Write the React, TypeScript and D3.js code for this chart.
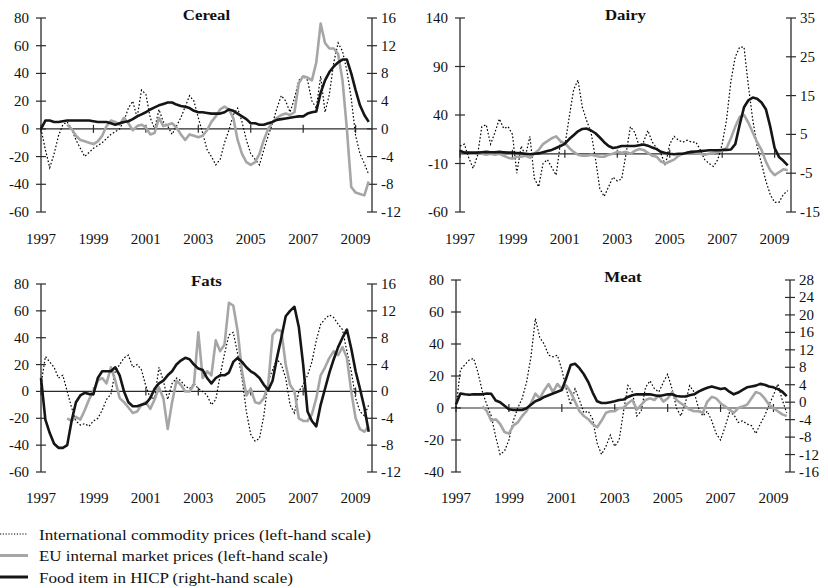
import React from "react";
import * as d3 from "d3";

// Monthly index (0 = Jan 1997), values sampled every 2 months
const STEP = 2;
const YEARS = [1997, 1999, 2001, 2003, 2005, 2007, 2009];
const N = null;

const cerealIntl = [0,-15,-28,-18,-5,3,5,0,-8,-14,
-20,-17,-14,-12,-10,-7,-4,-2,0,6,
15,20,8,28,25,8,0,14,5,2,
-4,2,8,16,24,20,8,-3,-15,-20,
-26,-22,-10,-1,10,15,5,-8,-18,-22,
-26,-15,-5,4,15,24,20,12,22,35,
38,35,20,15,38,12,25,48,62,56,
42,22,-5,-18,-25,-33];
const cerealEU = [N,N,N,N,N,N,3,0,-5,-8,
-9,-10,-11,-9,-5,2,6,5,3,8,
4,-1,2,3,1,-4,-3,8,2,3,
4,1,-4,-8,-4,-5,-6,-5,-1,5,
9,14,16,14,8,-8,-18,-24,-26,-24,
-18,-8,0,5,8,10,11,10,12,33,
38,37,35,48,76,62,58,58,54,35,
0,-42,-46,-47,-48,-38];
const cerealHICP = [0,1.2,1.2,1.0,1.0,1.1,1.2,1.2,1.2,1.2,
1.2,1.2,1.1,1.0,1.0,1.0,0.8,0.6,0.8,1.0,
1.1,1.4,1.8,2.1,2.4,2.8,3.1,3.4,3.6,3.8,
3.8,3.5,3.3,3.2,3.0,2.6,2.4,2.4,2.3,2.2,
2.2,2.2,2.4,2.8,2.6,2.2,1.8,1.4,0.8,0.8,
0.6,0.6,0.8,1.0,1.3,1.4,1.5,1.6,1.7,1.8,
1.8,2.2,2.4,2.5,5.2,7.0,8.2,9.0,9.6,10.0,
10.0,8.0,5.6,3.4,2.0,1.0];

const dairyIntl = [8,10,-4,-15,-2,28,30,10,22,36,
26,28,20,-20,8,-2,18,-25,-34,-10,
-6,-14,-22,12,8,38,66,76,48,34,
22,-5,-36,-44,-34,-24,-28,-26,0,28,
22,8,12,24,12,6,0,-12,10,18,
14,12,14,12,12,4,-6,-10,-13,-6,
10,35,75,100,110,110,70,35,8,-10,
-28,-42,-50,-50,-42,-38];
const dairyEU = [N,2,1,0,1,0,-1,0,-1,0,
-2,-4,-5,-3,-3,-2,-4,0,4,10,
13,16,18,13,11,6,2,-1,-2,-2,
-1,-2,-3,-3,-1,0,2,1,2,0,
3,5,4,1,-2,-3,-8,-10,-8,-6,
-2,0,1,2,1,0,-1,0,1,2,
3,6,16,28,38,40,32,22,12,4,
-8,-17,-22,-19,-16,-17];
const dairyHICP = [0.8,0.3,0.3,0.3,0.3,0.4,0.5,0.4,0.4,0.5,
0.4,0.3,0.3,0.2,0.1,0,-0.1,0,0.1,0.4,
0.7,1.0,1.5,2.0,2.6,3.8,4.8,5.8,6.4,6.5,
6.0,5.3,4.2,3.0,2.0,1.5,1.7,2.0,2.0,2.0,
2.0,2.2,2.4,2.1,1.6,1.2,0.5,0.2,0,-0.1,
0,0,0.3,0.5,0.6,0.7,0.8,0.9,0.9,0.9,
1.0,1.0,1.1,2.5,7.5,12,13.8,14.5,14.2,13.2,
11.5,7,1.5,-0.8,-1.8,-3.0];

const fatsIntl = [5,26,22,18,10,12,0,-12,-22,-25,
-24,-26,-22,-20,-14,-6,-2,15,20,25,
27,18,20,16,4,-5,-5,18,8,-6,
6,10,8,4,2,6,2,0,-3,-10,
-6,12,28,42,44,28,10,-15,-32,-37,
-35,-18,8,16,24,20,10,-10,-16,0,
5,12,22,38,50,54,57,55,50,46,
30,15,-5,-15,-18,-10];
const fatsEU = [N,N,N,N,N,N,-20,-22,-19,-21,
-14,-6,0,8,10,6,18,8,-5,-8,
-12,-16,-15,-10,-8,-13,-6,3,-5,-28,
-8,8,5,0,0,5,44,10,15,12,
38,30,35,66,64,45,15,-3,2,-8,
-9,-5,5,42,46,45,20,5,0,-20,
-22,-22,-17,-5,12,18,25,30,27,33,
25,0,-20,-28,-30,-26];
const fatsHICP = [2.0,-4.2,-6.2,-7.8,-8.4,-8.4,-8.0,-4.4,-1.6,-0.6,
-0.2,-0.4,-0.4,2.0,3.0,3.0,3.0,3.6,2.4,0,
-1.6,-2.2,-2.2,-2.0,-1.8,-1.0,0.4,1.2,1.6,2.4,
3.0,4.0,4.6,5.0,4.8,4.0,3.4,3.2,2.0,1.2,
2.0,2.4,2.4,2.8,4.4,5.0,4.4,3.6,3.0,2.6,
2.0,1.0,0.2,1.6,5.0,8.0,11.2,12.0,12.6,9.6,
4.0,-3.0,-4.4,-5.2,-2.0,0.4,2.8,4.8,6.6,8.0,
9.2,6.4,3.0,0.4,-2.4,-6.0];

const meatIntl = [0,24,27,30,31,22,10,2,-5,-18,
-29,-27,-20,-8,0,6,16,32,56,44,
40,33,32,33,24,12,2,12,5,-3,
-2,-7,-22,-29,-24,-17,-24,-20,-2,14,
10,-5,-2,13,17,12,10,16,21,12,
0,-5,3,14,10,0,-5,-2,-8,-16,
-20,-12,-3,-4,-9,-8,-10,-11,-16,-10,
-5,2,8,15,5,-3];
const meatEU = [N,N,N,N,N,N,1,-2,-8,-7,
-10,-15,-16,-11,-9,-5,-2,3,9,6,
11,15,10,15,12,14,10,4,-2,-5,
-7,-10,-12,-8,-3,-2,-2,0,0,3,
5,-1,2,5,6,5,8,4,6,10,
5,3,1,-1,-2,-2,-3,4,7,6,
3,1,-1,-3,0,1,2,6,10,9,
6,2,0,-2,-4,-5];
const meatHICP = [-0.5,2.0,1.8,1.7,1.8,1.8,1.8,2.0,1.9,0.4,
0,-0.8,-1.6,-1.8,-1.8,-1.8,-1.4,-0.6,0.2,0.6,
1.2,1.6,2.0,2.4,2.8,5.5,8.5,8.8,7.8,6.4,
4.6,2.2,0.2,-0.2,-0.2,0,0.2,0.5,0.6,1.2,
1.6,1.8,1.8,1.8,1.8,1.6,1.4,1.6,1.8,1.8,
1.4,1.3,1.3,1.6,1.8,2.4,2.9,3.3,3.6,3.3,
3.0,3.2,2.4,1.8,2.2,2.8,3.4,3.6,3.8,4.2,
4.0,3.6,3.4,3.0,2.4,1.4];

const cerealLeftTicks = [80, 60, 40, 20, 0, -20, -40, -60];
const cerealRightTicks = [16, 12, 8, 4, 0, -4, -8, -12];
const dairyLeftTicks = [140, 90, 40, -10, -60];
const dairyRightTicks = [35, 25, 15, 5, -5, -15];
const fatsLeftTicks = [80, 60, 40, 20, 0, -20, -40, -60];
const fatsRightTicks = [16, 12, 8, 4, 0, -4, -8, -12];
const meatLeftTicks = [80, 60, 40, 20, 0, -20, -40];
const meatRightTicks = [28, 24, 20, 16, 12, 8, 4, 0, -4, -8, -12, -16];

const LEGEND = [
  "International commodity prices (left-hand scale)",
  "EU internal market prices (left-hand scale)",
  "Food item in HICP (right-hand scale)",
];
const LEGEND_WIDTHS = [332, 289, 254];

const FONT = "'Liberation Serif', 'Times New Roman', serif";
const AXIS = "#2b2b2b";
const GRAY = "#a6a6a6";
const BLACK = "#151515";

type PanelCfg = {
  title: string;
  x0: number; x1: number; y0: number; y1: number;
  leftTicks: number[]; rightTicks: number[];
  intl: (number | null)[]; eu: (number | null)[]; hicp: (number | null)[];
  titleY: number; yearY: number;
};

const panels: PanelCfg[] = [
  { title: "Cereal", x0: 41, x1: 372, y0: 18, y1: 212, leftTicks: cerealLeftTicks, rightTicks: cerealRightTicks,
    intl: cerealIntl, eu: cerealEU, hicp: cerealHICP, titleY: 20, yearY: 243.5 },
  { title: "Dairy", x0: 460, x1: 791, y0: 18, y1: 212, leftTicks: dairyLeftTicks, rightTicks: dairyRightTicks,
    intl: dairyIntl, eu: dairyEU, hicp: dairyHICP, titleY: 20.5, yearY: 243.5 },
  { title: "Fats", x0: 41, x1: 372, y0: 284, y1: 472, leftTicks: fatsLeftTicks, rightTicks: fatsRightTicks,
    intl: fatsIntl, eu: fatsEU, hicp: fatsHICP, titleY: 286, yearY: 503 },
  { title: "Meat", x0: 456, x1: 790, y0: 280, y1: 472, leftTicks: meatLeftTicks, rightTicks: meatRightTicks,
    intl: meatIntl, eu: meatEU, hicp: meatHICP, titleY: 282.5, yearY: 503 },
];

function Panel({ p }: { p: PanelCfg }) {
  const x = d3.scaleLinear().domain([0, 151.5]).range([p.x0, p.x1]);
  const yL = d3.scaleLinear().domain(d3.extent(p.leftTicks) as [number, number]).range([p.y1, p.y0]);
  const yR = d3.scaleLinear().domain(d3.extent(p.rightTicks) as [number, number]).range([p.y1, p.y0]);
  const mk = (ys: d3.ScaleLinear<number, number>) =>
    d3.line<number | null>()
      .defined((d) => d != null)
      .x((_, i) => x(i * STEP))
      .y((d) => ys(d as number));
  const lineL = mk(yL);
  const lineR = mk(yR);
  const z = yL(0);
  const cx = (p.x0 + p.x1) / 2;
  return (
    <g fontFamily={FONT} fontSize={15} fill="#111">
      <text x={cx} y={p.titleY} textAnchor="middle" fontWeight="bold" fontSize={15}
        transform={`translate(${cx},0) scale(1.12,1) translate(${-cx},0)`}>
        {p.title}
      </text>
      {/* axes */}
      <line x1={p.x0} x2={p.x0} y1={p.y0} y2={p.y1} stroke={AXIS} strokeWidth={1.3} />
      <line x1={p.x1} x2={p.x1} y1={p.y0} y2={p.y1} stroke={AXIS} strokeWidth={1.3} />
      <line x1={p.x0} x2={p.x1} y1={z} y2={z} stroke={AXIS} strokeWidth={1.2} />
      {p.leftTicks.map((t) => (
        <g key={"l" + t}>
          <line x1={p.x0 - 5} x2={p.x0 + 5} y1={yL(t)} y2={yL(t)} stroke={AXIS} strokeWidth={1.2} />
          <text x={p.x0 - 12} y={yL(t) + 5} textAnchor="end">{t}</text>
        </g>
      ))}
      {p.rightTicks.map((t) => (
        <g key={"r" + t}>
          <line x1={p.x1 - 5} x2={p.x1 + 5} y1={yR(t)} y2={yR(t)} stroke={AXIS} strokeWidth={1.2} />
          <text x={p.x1 + 9} y={yR(t) + 5} textAnchor="start">{t}</text>
        </g>
      ))}
      {YEARS.map((yr) => {
        const xx = x((yr - 1997) * 12);
        return (
          <g key={yr}>
            <line x1={xx} x2={xx} y1={z - 4} y2={z + 4} stroke={AXIS} strokeWidth={1.2} />
            <text x={xx} y={p.yearY} textAnchor="middle">{yr}</text>
          </g>
        );
      })}
      <path d={lineL(p.intl) || ""} fill="none" stroke="#000" strokeWidth={1.2} strokeDasharray="1.6,2" />
      <path d={lineL(p.eu) || ""} fill="none" stroke={GRAY} strokeWidth={2.6} strokeLinejoin="round" />
      <path d={lineR(p.hicp) || ""} fill="none" stroke={BLACK} strokeWidth={2.6} strokeLinejoin="round" />
    </g>
  );
}

export default function App() {
  const legendY = [534, 555.5, 577];
  return (
    <svg width={828} height={588} style={{ position: "absolute", left: 0, top: 0, background: "#fff" }}>
      <rect width={828} height={588} fill="#fff" />
      {panels.map((p) => <Panel key={p.title} p={p} />)}
      <g fontFamily={FONT} fontSize={15} fill="#111">
        {LEGEND.map((t, i) => (
          <g key={t}>
            <line x1={0} x2={28} y1={legendY[i]} y2={legendY[i]}
              stroke={i === 0 ? "#000" : i === 1 ? GRAY : BLACK}
              strokeWidth={i === 0 ? 1.1 : 3}
              strokeDasharray={i === 0 ? "1.2,1.6" : undefined} />
            <text x={39} y={legendY[i] + 5.5} textLength={LEGEND_WIDTHS[i]} lengthAdjust="spacingAndGlyphs">{t}</text>
          </g>
        ))}
      </g>
    </svg>
  );
}
